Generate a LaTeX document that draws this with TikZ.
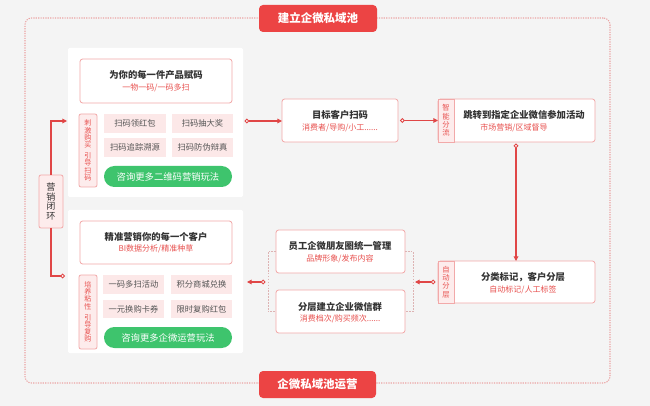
\documentclass[tikz,border=0pt]{standalone}
\usepackage{fontspec}
\setmainfont{Noto Sans CJK SC}
\usetikzlibrary{arrows.meta}
\definecolor{bg}{HTML}{F4F4F4}
\definecolor{red1}{HTML}{EC4444}
\definecolor{pinkb}{HTML}{F2A9A9}
\definecolor{pinkf}{HTML}{FDECEC}
\definecolor{chipf}{HTML}{FCE8E8}
\definecolor{green1}{HTML}{3EC46D}
\definecolor{txt}{HTML}{333333}
\definecolor{chiptxt}{HTML}{555555}
\definecolor{subred}{HTML}{E8514F}
\definecolor{line1}{HTML}{E04646}
\definecolor{dotc}{HTML}{EBA3A3}
\definecolor{brkc}{HTML}{DDB3B3}
\newcommand\boxat[7]{\node[#1, anchor=north west, minimum width={(#5-#3)*0.75pt}, minimum height={(#6-#4)*0.75pt}] (#2) at (#3,#4) {#7};}
\tikzset{
  base/.style={inner sep=0pt, outer sep=0pt},
  panel/.style={base, fill=white, rounded corners=1pt},
  hbox/.style={base, fill=white, draw=pinkb, line width=0.6pt, rounded corners=2pt},
  vlab/.style={base, fill=pinkf, draw=pinkb, line width=0.6pt, rounded corners=1.5pt, align=center, text=subred,
    font=\fontsize{5.3}{5.4}\selectfont},
  loopb/.style={base, fill=pinkf, draw=pinkb, line width=0.6pt, rounded corners=1.5pt, align=center, text=txt,
    font=\fontsize{6.8}{7.3}\selectfont},
  strip/.style={base, fill=pinkf, draw=pinkb, line width=0.6pt, align=center, text=subred,
    font=\fontsize{5.5}{6.3}\selectfont},
  chip/.style={base, fill=chipf, text=chiptxt, font=\fontsize{6.2}{7}\selectfont},
  gbtn/.style={base, fill=green1, text=white, rounded corners=7.8pt, font=\fontsize{7}{8}\selectfont},
  badge/.style={base, fill=red1, text=white, rounded corners=3pt, font=\fontsize{8.6}{10}\selectfont\bfseries},
  frame/.style={base, draw=dotc, line width=0.8pt, dash pattern=on 0.9pt off 0.9pt, rounded corners=5pt},
  ttl/.style={base, text=txt, font=\fontsize{7}{8}\selectfont\bfseries},
  sub/.style={base, text=subred, font=\fontsize{6}{7}\selectfont},
  conn/.style={draw=line1, line width=0.8pt},
  tri/.style={conn, -{Triangle[length=3.5pt,width=3.5pt]}},
  oarr/.style={conn, {Circle[length=3.6pt,width=3.6pt,fill=white,line width=0.7pt]}-{Triangle[length=3.5pt,width=3.5pt]}},
  brk/.style={draw=brkc, line width=0.6pt, dash pattern=on 1.2pt off 1pt},
}
\begin{document}
\begin{tikzpicture}[x=0.75pt, y=-0.75pt]
\fill[bg] (0,0) rectangle (650,406);
\useasboundingbox (0,0) rectangle (650,406);

% outer frame
\boxat{frame}{F}{25}{18}{610}{383}{}

% panel 1
\boxat{panel}{P1}{68}{48}{243}{197}{}
\boxat{hbox}{H1}{80}{59}{232}{103}{}
\node[ttl] (H1t) at (156,75) {为你的每一件产品赋码};
\node[sub] (H1s) at (156,88) {一物一码/一码多扫};
\boxat{vlab}{V1}{79}{114}{97}{187}{刺\\激\\购\\买\\[3pt]引\\导\\扫\\码}
\boxat{chip}{C11}{104}{114}{166}{133}{扫码领红包}
\boxat{chip}{C12}{172}{114}{233}{133}{扫码抽大奖}
\boxat{chip}{C13}{104}{138}{166}{157}{扫码追踪溯源}
\boxat{chip}{C14}{172}{138}{233}{157}{扫码防伪辩真}
\boxat{gbtn}{G1}{104}{166}{232}{187}{咨询更多二维码营销玩法}

% panel 2
\boxat{panel}{P2}{68}{210}{243}{353}{}
\boxat{hbox}{H2}{80}{221}{232}{264}{}
\node[ttl] (H2t) at (156,237) {精准营销你的每一个客户};
\node[sub] (H2s) at (156,249) {BI数据分析/精准种草};
\boxat{vlab}{V2}{79}{275}{97}{349}{培\\养\\粘\\性\\[3pt]引\\导\\复\\购}
\boxat{chip}{C21}{103}{275}{164}{294}{一码多扫活动}
\boxat{chip}{C22}{171}{275}{232}{294}{积分商城兑换}
\boxat{chip}{C23}{103}{300}{164}{318}{一元换购卡券}
\boxat{chip}{C24}{171}{300}{232}{318}{限时复购红包}
\boxat{gbtn}{G2}{104}{327}{232}{348}{咨询更多企微运营玩法}

% loop label
\boxat{loopb}{L}{39}{175}{63}{228}{营\\销\\闭\\环}

% box A
\boxat{hbox}{A}{282}{99}{398}{142}{}
\node[ttl] (At) at (340,115) {目标客户扫码};
\node[sub] (As) at (340,128) {消费者/导购/小工......};

% box B
\boxat{hbox}{B}{438}{99}{595}{142}{}
\boxat{strip}{SB}{438}{99}{454}{142}{智\\能\\分\\流}
\node[ttl] (Bt) at (524,115) {跳转到指定企业微信参加活动};
\node[sub] (Bs) at (514,128) {市场营销/区域督导};

% box C
\boxat{hbox}{C}{438}{261}{595}{303}{}
\boxat{strip}{SC}{438}{261}{454}{303}{自\\动\\分\\层}
\node[ttl] (Ct) at (523,277) {分类标记，客户分层};
\node[sub] (Cs) at (523,290) {自动标记/人工标签};

% box D, E
\boxat{hbox}{D}{276}{230}{405}{273}{}
\node[ttl] (Dt) at (340,246) {员工企微朋友圈统一管理};
\node[sub] (Ds) at (340,259) {品牌形象/发布内容};
\boxat{hbox}{E}{276}{290}{405}{333}{}
\node[ttl] (Et) at (340,307) {分层建立企业微信群};
\node[sub] (Es) at (340,319) {消费档次/购买频次......};

% brackets
\draw[brk] (D.west) -- ++(-8,0) |- (E.west);
\draw[brk] (D.east) -- ++(8,0) |- (E.east);

% badges
\boxat{badge}{T1}{259}{5}{377}{32}{建立企微私域池}
\boxat{badge}{T2}{259}{371}{376}{398}{企微私域池运营}

% connectors
\coordinate (L1) at (67,121);
\coordinate (L2) at (65,276);
\draw[tri] (L.north) |- (L1);
\draw[conn, -{Circle[length=3.6pt,width=3.6pt,fill=white,line width=0.7pt]}] (L.south) |- (L2);

\coordinate (P1o) at (244.5,121);
\draw[oarr] (P1o) -- (A.west |- P1o);
\coordinate (Ao) at (400,120.5);
\draw[oarr] (Ao) -- (B.west);
\coordinate (Bo) at (516,143.5);
\draw[oarr] (Bo) -- (Bo |- C.north);
\coordinate (Co) at (435.5,282);
\coordinate (Rb) at (415,282);
\draw[oarr] (Co) -- (Rb);
\coordinate (Lb) at (265.5,282);
\coordinate (P2in) at (247,282);
\draw[oarr] (Lb) -- (P2in);
\end{tikzpicture}
\end{document}
